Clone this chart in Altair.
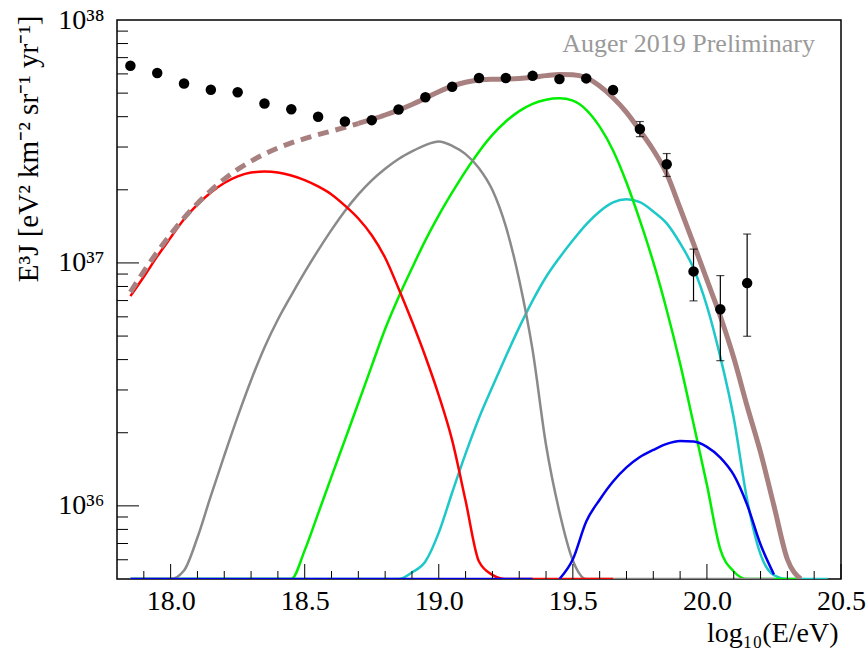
import altair as alt
import pandas as pd

# ---------------- data ----------------
YMIN, YMAX = 5.0e35, 1.0e38
XMIN, XMAX = 17.8, 20.5
UNIT = 1e37  # curve / data values below are in units of 1e37

X_GRID = [round(17.85 + 0.05 * i, 2) for i in range(53)]  # 17.85 ... 20.45

# 0 = below the plotted range (drawn on the frame, as ROOT does), None = not drawn
RED = [0.730, 0.877, 1.064, 1.271, 1.514, 1.738, 1.950, 2.133, 2.270, 2.355,
       2.377, 2.355, 2.291, 2.193, 2.065, 1.914, 1.722, 1.524, 1.300, 1.050,
       0.785, 0.575, 0.412, 0.285, 0.186, 0.105, 0.0590, 0.0520,
       0, 0, 0, 0, 0, 0, 0, 0, 0] + [None] * 16

GRAY = [0, 0, 0, 0,
        0.0542, 0.0741, 0.110, 0.161, 0.233, 0.329, 0.449, 0.585, 0.736, 0.916,
        1.127, 1.368, 1.637, 1.914, 2.188, 2.443, 2.679, 2.877, 3.055, 3.162,
        3.034, 2.805, 2.455, 1.995, 1.413, 0.851, 0.437, 0.178, 0.0944, 0.0596] \
    + [0] * 15 + [None] * 4

GREEN = [0] * 13 + \
    [0.0656, 0.0929, 0.132, 0.187, 0.265, 0.377, 0.535, 0.723, 0.951, 1.239,
     1.570, 1.950, 2.388, 2.871, 3.365, 3.819, 4.217, 4.519, 4.699, 4.764,
     4.656, 4.27, 3.639, 2.904, 2.143, 1.496, 1.007, 0.640, 0.385, 0.218,
     0.122, 0.0662, 0.0537] + [0] * 5 + [None] * 2

CYAN = [0] * 21 + \
    [0.0532, 0.0590, 0.0776, 0.1135, 0.164, 0.230, 0.309, 0.412, 0.543, 0.700,
     0.875, 1.050, 1.239, 1.442, 1.629, 1.774, 1.828, 1.778, 1.629, 1.455,
     1.205, 0.951, 0.664, 0.410, 0.230, 0.106, 0.0631, 0.0518] + [0] * 4

BLUE = [0] * 31 + [None] + [0] + \
    [0.0603, 0.0863, 0.106, 0.126, 0.144, 0.159, 0.170, 0.180, 0.185, 0.184,
     0.175, 0.158, 0.134, 0.101, 0.0693, 0.0522] + [None] * 4

TOTAL = [0.759, 0.923, 1.109, 1.312, 1.531, 1.758, 1.986, 2.213, 2.427, 2.624,
         2.805, 2.972, 3.119, 3.251, 3.373, 3.491, 3.614, 3.750, 3.899, 4.064,
         4.256, 4.487, 4.764, 5.070, 5.346, 5.546, 5.662, 5.702, 5.715, 5.741,
         5.808, 5.902, 5.970, 5.957, 5.781, 5.346, 4.786, 4.169, 3.508, 2.917,
         2.328, 1.679, 1.202, 0.851, 0.603, 0.407, 0.257, 0.166, 0.100, 0.0603,
         0, None, None]
DASH_END = 18.7  # total is dashed below this energy

DATA_X = [17.85, 17.95, 18.05, 18.15, 18.25, 18.35, 18.45, 18.55, 18.65, 18.75,
          18.85, 18.95, 19.05, 19.15, 19.25, 19.35, 19.45, 19.55, 19.65, 19.75,
          19.85, 19.95, 20.05, 20.15]
DATA_Y = [6.48, 6.05, 5.48, 5.16, 5.04, 4.53, 4.29, 4.00, 3.82, 3.87,
          4.28, 4.81, 5.31, 5.77, 5.77, 5.89, 5.71, 5.75, 5.15, 3.56,
          2.55, 0.923, 0.645, 0.826]
ERR_LO = [None] * 19 + [3.31, 2.27, 0.698, 0.396, 0.499]
ERR_HI = [None] * 19 + [3.82, 2.82, 1.14, 0.887, 1.315]

X_MAJOR = [18.0, 18.5, 19.0, 19.5, 20.0, 20.5]
X_MINOR = [17.9, 18.1, 18.2, 18.3, 18.4, 18.6, 18.7, 18.8, 18.9, 19.1, 19.2,
           19.3, 19.4, 19.6, 19.7, 19.8, 19.9, 20.1, 20.2, 20.3, 20.4]
Y_MAJOR = [1e36, 1e37]
Y_MINOR = [6e35, 7e35, 8e35, 9e35, 2e36, 3e36, 4e36, 5e36, 6e36, 7e36, 8e36, 9e36,
           2e37, 3e37, 4e37, 5e37, 6e37, 7e37, 8e37, 9e37]

LABEL_TEXT = "Auger 2019 Preliminary"
LABEL_X, LABEL_Y = 20.403, 7.41e37

# ---------------- styling ----------------
W, H = 724, 559
FONT = "Liberation Serif"
xs = alt.Scale(domain=[XMIN, XMAX], nice=False, zero=False)
ys = alt.Scale(type="log", domain=[YMIN, YMAX], nice=False)

label_expr = "datum.value > 5e37 ? '10³⁸' : datum.value > 5e36 ? '10³⁷' : '10³⁶'"
X_AXIS = alt.Axis(values=X_MAJOR, format=".1f", tickSize=0, domain=False, grid=False,
                  labelFlush=False, labelFont=FONT, labelFontSize=28,
                  labelColor="black", labelPadding=8,
                  title="log₁₀(E/eV)", titleFont=FONT, titleFontSize=28,
                  titleFontWeight="normal", titleColor="black",
                  titleAnchor="end", titleAlign="right",
                  titleBaseline="alphabetic", titleX=W - 3, titleY=62)
Y_AXIS = alt.Axis(values=[1e36, 1e37, 1e38], labelExpr=label_expr, tickSize=0,
                  domain=False, grid=False, labelFont=FONT, labelFontSize=28,
                  labelColor="black", labelPadding=13, labelBaseline="middle",
                  title="E³J [eV² km⁻² sr⁻¹ yr⁻¹]", titleFont=FONT,
                  titleFontSize=29, titleFontWeight="normal", titleColor="black",
                  titleAngle=270, titleAlign="right", titleBaseline="alphabetic",
                  titleX=-80, titleY=-5)


def curve_df(vals, name):
    rows, seg = [], 0
    for x, v in zip(X_GRID, vals):
        if v is None:
            seg += 1
            continue
        rows.append({"x": x, "y": max(v * UNIT, YMIN), "seg": f"{name}{seg}"})
    return pd.DataFrame(rows)


def line_layer(df, color, width, dash=None, axes=False):
    kw = dict(color=color, strokeWidth=width, clip=True, interpolate="monotone")
    if dash:
        kw["strokeDash"] = dash
    return alt.Chart(df).mark_line(**kw).encode(
        x=alt.X("x:Q", scale=xs, axis=X_AXIS if axes else None),
        y=alt.Y("y:Q", scale=ys, axis=Y_AXIS if axes else None),
        detail="seg:N",
    )


layers = []
for k, (vals, name, col) in enumerate([(CYAN, "cyan", "#1ec8c8"), (GREEN, "green", "#00ee00"),
                                       (GRAY, "gray", "#8a8a8a"), (RED, "red", "#ff0000"),
                                       (BLUE, "blue", "#0000ee")]):
    layers.append(line_layer(curve_df(vals, name), col, 2.5, axes=(k == 0)))

tot = curve_df(TOTAL, "tot")
BROWN = "#a88080"
layers.append(line_layer(tot[tot.x <= DASH_END], BROWN, 5, [11, 7]))
layers.append(line_layer(tot[tot.x >= DASH_END], BROWN, 5))

pts = pd.DataFrame({"x": DATA_X, "y": [v * UNIT for v in DATA_Y],
                    "lo": [None if v is None else v * UNIT for v in ERR_LO],
                    "hi": [None if v is None else v * UNIT for v in ERR_HI]})
err = pts.dropna()
layers.append(alt.Chart(err).mark_rule(color="black", strokeWidth=1.2).encode(
    x=alt.X("x:Q", scale=xs, axis=None), y=alt.Y("lo:Q", scale=ys, axis=None), y2="hi:Q"))
for f in ["lo", "hi"]:
    layers.append(alt.Chart(err).mark_tick(orient="horizontal", size=8, thickness=1.2,
                                           color="black").encode(
        x=alt.X("x:Q", scale=xs, axis=None), y=alt.Y(f + ":Q", scale=ys, axis=None)))

layers.append(alt.Chart(pts).mark_circle(size=110, color="black", opacity=1).encode(
    x=alt.X("x:Q", scale=xs, axis=None), y=alt.Y("y:Q", scale=ys, axis=None)))

# inward ticks (ROOT style)
for vals, ln in [(X_MAJOR, 15), (X_MINOR, 8)]:
    layers.append(alt.Chart(pd.DataFrame({"t": vals})).mark_rule(color="black", strokeWidth=1).encode(
        x=alt.X("t:Q", scale=xs, axis=None), y=alt.value(H), y2=alt.value(H - ln)))
for vals, ln in [(Y_MAJOR, 22), (Y_MINOR, 11)]:
    layers.append(alt.Chart(pd.DataFrame({"t": vals})).mark_rule(color="black", strokeWidth=1).encode(
        y=alt.Y("t:Q", scale=ys, axis=None), x=alt.value(0), x2=alt.value(ln)))

layers.append(alt.Chart(pd.DataFrame({"x": [LABEL_X], "y": [LABEL_Y], "t": [LABEL_TEXT]}))
              .mark_text(font=FONT, fontSize=26, color="#9a9a9a", align="right",
                         baseline="alphabetic")
              .encode(x=alt.X("x:Q", scale=xs, axis=None),
                      y=alt.Y("y:Q", scale=ys, axis=None), text="t:N"))

chart = alt.layer(*layers).resolve_axis(x="independent", y="independent").properties(
    width=W, height=H,
    padding={"left": 117, "top": 20, "right": 27, "bottom": 74},
    autosize=alt.AutoSizeParams(type="none"),
    background="white",
).configure_view(stroke="black", strokeWidth=1.5)

chart.save("out.html", embed_options={"renderer": "svg", "actions": False})
